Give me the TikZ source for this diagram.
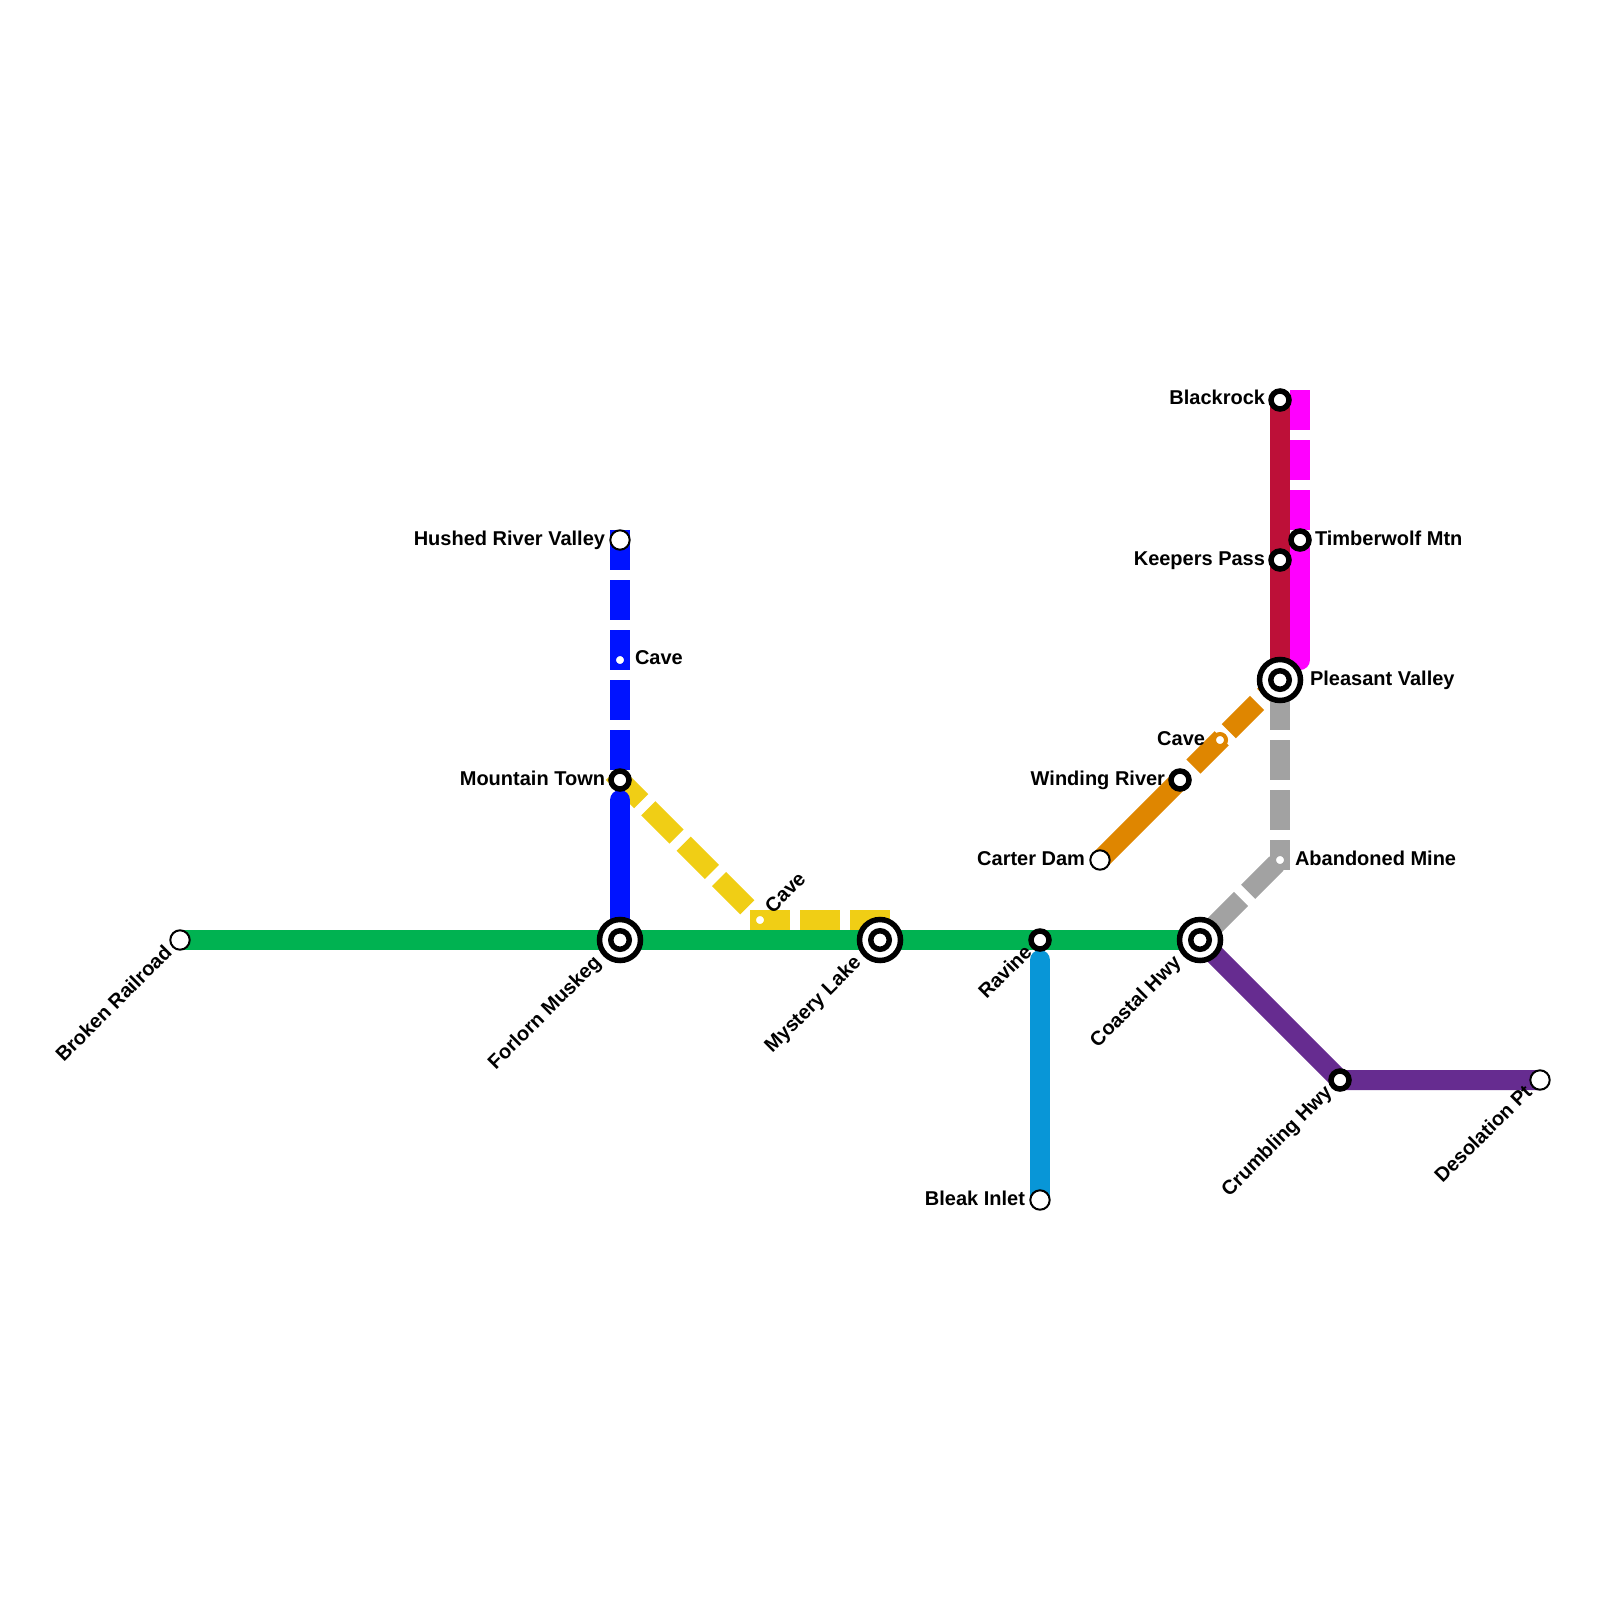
\documentclass[tikz,border=0pt]{standalone}
\usepackage{fontspec}
\setmainfont{Liberation Sans}
\pgfdeclarelayer{bg}
\pgfsetlayers{bg,main}
\definecolor{cgreen}{HTML}{00B251}
\definecolor{cblue}{HTML}{0013FF}
\definecolor{cyellow}{HTML}{F0CE15}
\definecolor{ccrimson}{HTML}{BD1038}
\definecolor{cmagenta}{HTML}{FF00FF}
\definecolor{cgrey}{HTML}{A2A2A2}
\definecolor{corange}{HTML}{DF8600}
\definecolor{cpurple}{HTML}{662C90}
\definecolor{csky}{HTML}{0896D7}
\tikzset{
  x=0.5pt,y=-0.5pt,
  band/.style={line width=10pt,line cap=butt,line join=miter},
  roundband/.style={band,line cap=round},
  dashband/.style={band,line cap=rect,dash pattern=on 10pt off 15pt},
  stnplain/.style={circle,draw=black,fill=white,line width=2.75pt,inner sep=0pt,outer sep=0pt,minimum size=9pt},
  stnend/.style={circle,draw=black,fill=white,line width=1pt,inner sep=0pt,outer sep=0pt,minimum size=9.7pt},
  stnhub/.style={circle,draw=black,fill=white,line width=2.75pt,inner sep=0pt,outer sep=0pt,minimum size=20.5pt,
    path picture={\draw[line width=2.75pt,fill=white] (path picture bounding box.center) circle (4.625pt);}},
  stnpoint/.style={circle,draw=#1,fill=white,line width=2pt,inner sep=0pt,outer sep=0pt,minimum size=6pt},
  lab/.style={inner sep=0pt,outer sep=0pt,font=\fontsize{10pt}{12pt}\selectfont\bfseries},
  labl/.style={lab,anchor=base east},
  labr/.style={lab,anchor=base west},
  labd/.style={lab,anchor=base east,rotate=45},
  labu/.style={lab,anchor=base west,rotate=45},
}
\begin{document}
\begin{tikzpicture}
\useasboundingbox (0,0) rectangle (1600,1600);
% stations
\node[stnend] (broken) at (180,940) {};
\node[stnhub] (forlorn) at (620,940) {};
\node[stnhub] (mystery) at (880,940) {};
\node[stnplain] (ravine) at (1040,940) {};
\node[stnhub] (coastal) at (1200,940) {};
\node[stnend] (hushed) at (620,540) {};
\node[stnpoint=cblue] (caveb) at (620,660) {};
\node[stnplain] (mountain) at (620,780) {};
\node[stnpoint=cyellow] (cavey) at (760,920) {};
\node[stnend] (bleak) at (1040,1200) {};
\node[stnplain] (crumbling) at (1340,1080) {};
\node[stnend] (desolation) at (1540,1080) {};
\node[stnend] (carter) at (1100,860) {};
\node[stnplain] (winding) at (1180,780) {};
\node[stnpoint=corange] (caveo) at (1220,740) {};
\node[stnhub] (pleasant) at (1280,680) {};
\node[stnpoint=cgrey] (abandoned) at (1280,860) {};
\node[stnplain] (blackrock) at (1280,400) {};
\node[stnplain] (keepers) at (1280,560) {};
\node[stnplain] (timberwolf) at (1300,540) {};
% free line ends
\coordinate (mtnfoot) at (620,800);
\coordinate (ravfoot) at (1040,960);
\coordinate (mystop) at (880,920);
\coordinate (magtop) at (1300,400);
\coordinate (magfoot) at (1300,660);
% lines
\begin{pgfonlayer}{bg}
\draw[band,cgreen] (broken.center) -- (forlorn.center) -- (mystery.center) -- (ravine.center) -- (coastal.center);
\draw[dashband,cyellow] (mountain.center) -- (cavey.center);
\draw[dashband,cyellow] (cavey.center) -- (mystop);
\draw[dashband,cblue] (hushed.center) -- (caveb.center) -- (mountain.center);
\draw[roundband,cblue] (mtnfoot) -- (forlorn.center);
\draw[roundband,csky] (ravfoot) -- (bleak.center);
\draw[band,cpurple] (coastal.center) -- (crumbling.center) -- (desolation.center);
\draw[dashband,cmagenta] (magtop) -- (timberwolf.center);
\draw[roundband,cmagenta] (timberwolf.center) -- (magfoot);
\draw[band,ccrimson] (blackrock.center) -- (keepers.center) -- (pleasant.center);
\draw[band,corange] (carter.center) -- (winding.center);
\draw[dashband,corange,dash phase=10.5pt] (winding.center) -- (pleasant.center);
\draw[dashband,cgrey,dash phase=15pt] (pleasant.center) -- (abandoned.center);
\draw[dashband,cgrey,dash phase=17.5pt] (abandoned.center) -- (coastal.center);
\end{pgfonlayer}
% labels
\node[labd] (tbroken) at (173,953.5) {Broken Railroad};
\node[labd] (tforlorn) at (602,964) {Forlorn Muskeg};
\node[labd] (tmystery) at (862,964) {Mystery Lake};
\node[labd] (travine) at (1033,953.5) {Ravine};
\node[labd] (tcoastal) at (1182,964) {Coastal Hwy};
\node[labd] (tcrumbling) at (1333,1093.5) {Crumbling Hwy};
\node[labd] (tdesolation) at (1533,1093.5) {Desolation Pt};
\node[labl] (thushed) at (605,545) {Hushed River Valley};
\node[labr] (tcaveb) at (635,664.5) {Cave};
\node[labl] (tmountain) at (605,785) {Mountain Town};
\node[labu] (tcavey) at (773,914) {Cave};
\node[labl] (tbleak) at (1025,1205) {Bleak Inlet};
\node[labl] (tcarter) at (1085,865) {Carter Dam};
\node[labl] (twinding) at (1165,785) {Winding River};
\node[labl] (tcaveo) at (1205,745) {Cave};
\node[labr] (tpleasant) at (1310,685) {Pleasant Valley};
\node[labr] (tabandoned) at (1295,865) {Abandoned Mine};
\node[labl] (tblackrock) at (1265,404.5) {Blackrock};
\node[labl] (tkeepers) at (1265,565) {Keepers Pass};
\node[labr] (ttimberwolf) at (1315,545) {Timberwolf Mtn};
\end{tikzpicture}
\end{document}
